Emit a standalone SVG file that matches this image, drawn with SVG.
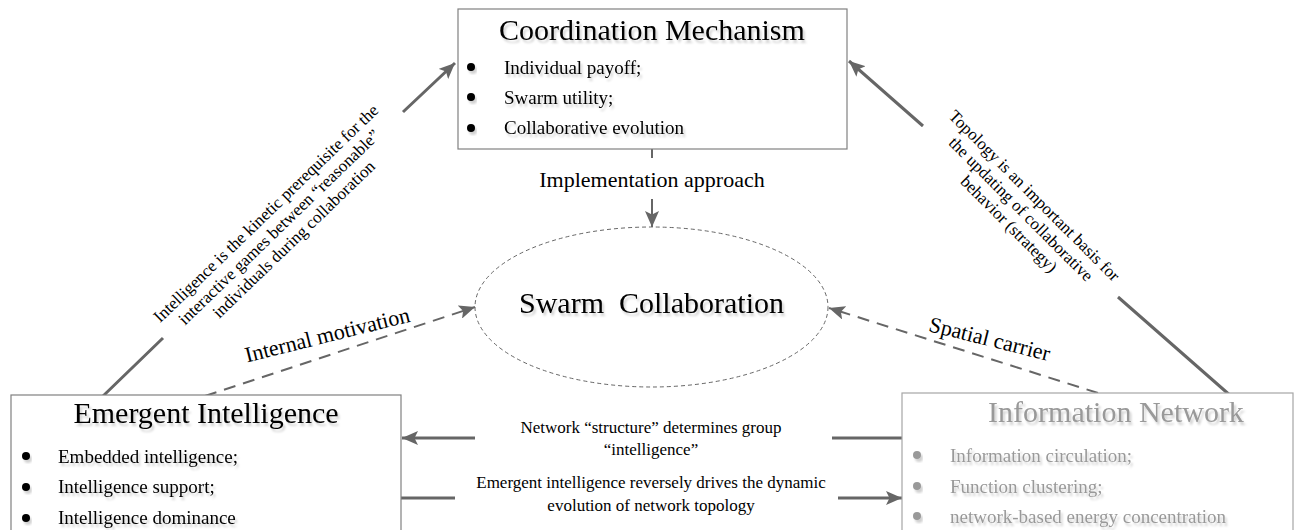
<svg xmlns="http://www.w3.org/2000/svg" width="1298" height="530" viewBox="0 0 1298 530">
<style>
  text { font-family: "Liberation Serif", "Times New Roman", "Noto Sans CJK SC", serif; }
  .box { fill: #fff; stroke: #808080; stroke-width: 1.2; }
  .boxg { fill: #fff; stroke: #a6a6a6; stroke-width: 1.2; }
  .title { font-size: 30px; fill: #000; text-anchor: middle; filter: url(#sh); }
  .titleg { font-size: 30px; fill: #999; text-anchor: middle; filter: url(#sh); }
  .item { font-size: 19px; fill: #000; filter: url(#sh); }
  .itemg { font-size: 19px; fill: #999; filter: url(#sh); }
  .dot { fill: #000; filter: url(#sh); }
  .dotg { fill: #999; filter: url(#sh); }
  .conn { fill: none; stroke: #666; stroke-width: 3; }
  .dash { fill: none; stroke: #666; stroke-width: 2; stroke-dasharray: 12 8; }
  .lbl { font-size: 17px; fill: #000; text-anchor: middle; }
  .lblb { font-size: 22px; fill: #000; text-anchor: middle; }
</style>
<defs>
  <filter id="sh" x="-10%" y="-30%" width="130%" height="180%">
    <feDropShadow dx="2" dy="3" stdDeviation="1" flood-color="#000" flood-opacity="0.18"/>
  </filter>
  <marker id="ah" viewBox="0 0 16 14" refX="16" refY="7" markerWidth="16" markerHeight="14" markerUnits="userSpaceOnUse" orient="auto">
    <path d="M0,0 L16,7 L0,14 L3.5,7 z" fill="#666"/>
  </marker>
</defs>

<g id="connectors">
  <!-- Emergent Intelligence -> Coordination Mechanism -->
  <path class="conn" d="M102,397 L163,338 M403,112 L455,63" marker-end="url(#ah)"/>
  <!-- Information Network -> Coordination Mechanism -->
  <path class="conn" d="M1232,397 L1118,297 M923,126 L849,61" marker-end="url(#ah)"/>
  <!-- Coordination Mechanism -> Swarm Collaboration -->
  <path class="conn" d="M652,149 L652,158 M652,199 L652,227" style="stroke-width:2" marker-end="url(#ah)"/>
  <!-- Emergent -> Swarm (dashed) -->
  <path class="dash" d="M205,396 L475,307" marker-end="url(#ah)"/>
  <!-- Info -> Swarm (dashed) -->
  <path class="dash" d="M1098,393 L829,308" marker-end="url(#ah)"/>
  <!-- Info -> Emergent -->
  <path class="conn" d="M902,438 L832,438 M475,438 L402,438" marker-end="url(#ah)"/>
  <!-- Emergent -> Info -->
  <path class="conn" d="M401,498 L455,498 M838,498 L902,498" marker-end="url(#ah)"/>

  <text class="lbl" transform="translate(281,226) rotate(-44)">
    <tspan x="0" y="-14">Intelligence is the kinetic prerequisite for the</tspan>
    <tspan x="0" y="5">interactive games between “reasonable”</tspan>
    <tspan x="0" y="24">individuals during collaboration</tspan>
  </text>
  <text class="lbl" transform="translate(1022,211) rotate(45)">
    <tspan x="0" y="-14">Topology is an important basis for</tspan>
    <tspan x="0" y="5">the updating of collaborative</tspan>
    <tspan x="0" y="24">behavior (strategy)</tspan>
  </text>
  <text class="lblb" x="652" y="187">Implementation approach</text>
  <text class="lblb" transform="translate(329,342) rotate(-14)">Internal motivation</text>
  <text class="lblb" transform="translate(988,346) rotate(14)">Spatial carrier</text>
  <text class="lbl" x="651" y="433">Network “structure” determines group</text>
  <text class="lbl" x="651" y="455">“intelligence”</text>
  <text class="lbl" x="651" y="488">Emergent intelligence reversely drives the dynamic</text>
  <text class="lbl" x="651" y="511">evolution of network topology</text>
</g>

<g id="coordination-mechanism">
  <rect class="box" x="458" y="9" width="389" height="140"/>
  <text class="title" x="652" y="40">Coordination Mechanism</text>
  <circle class="dot" cx="471" cy="67" r="4"/>
  <text class="item" x="504" y="74">Individual payoff;</text>
  <circle class="dot" cx="471" cy="97" r="4"/>
  <text class="item" x="504" y="104">Swarm utility;</text>
  <circle class="dot" cx="471" cy="128" r="4"/>
  <text class="item" x="504" y="134">Collaborative evolution</text>
</g>

<g id="swarm-collaboration">
  <ellipse cx="651.5" cy="307" rx="176.5" ry="80" fill="none" stroke="#666" stroke-width="1" stroke-dasharray="4 3"/>
  <text class="title" x="651.5" y="313">Swarm&#160; Collaboration</text>
</g>

<g id="emergent-intelligence">
  <rect class="box" x="11" y="395" width="390" height="150"/>
  <text class="title" x="206" y="423">Emergent Intelligence</text>
  <circle class="dot" cx="26" cy="456" r="4"/>
  <text class="item" x="58" y="463">Embedded intelligence;</text>
  <circle class="dot" cx="26" cy="487" r="4"/>
  <text class="item" x="58" y="493">Intelligence support;</text>
  <circle class="dot" cx="26" cy="518" r="4"/>
  <text class="item" x="58" y="524">Intelligence dominance</text>
</g>

<g id="information-network">
  <rect class="boxg" x="902" y="393" width="391" height="150"/>
  <text class="titleg" x="1116" y="422">Information Network</text>
  <circle class="dotg" cx="917" cy="455" r="4"/>
  <text class="itemg" x="950" y="462">Information circulation;</text>
  <circle class="dotg" cx="917" cy="486" r="4"/>
  <text class="itemg" x="950" y="493">Function clustering;</text>
  <circle class="dotg" cx="917" cy="516" r="4"/>
  <text class="itemg" x="950" y="523">network-based energy concentration</text>
</g>
</svg>
